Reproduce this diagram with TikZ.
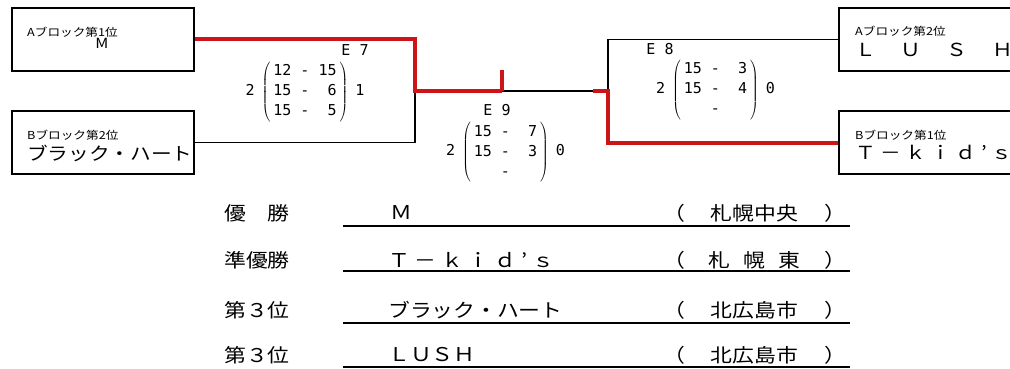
\documentclass[tikz,border=0pt]{standalone}
\usepackage{fontspec}
\setmainfont{Liberation Sans}
\newfontfamily\jp[FakeStretch=1.15]{Noto Sans CJK JP}
\newfontfamily\jpwide[FakeStretch=1.15,LetterSpace=25]{Noto Sans CJK JP}
\newfontfamily\scorefont{DejaVu Sans Mono}
\usepackage{tikz}
\usetikzlibrary{positioning,calc}
\definecolor{winred}{RGB}{205,20,25}

\begin{document}
\begin{tikzpicture}[x=1pt,y=-1pt]
				\tikzstyle{every node}=[inner sep=0pt]
				\tikzstyle{tbox}=[draw, line width=1.3pt, minimum width=182pt, minimum height=63pt]
				\tikzstyle{head}=[anchor=west, font=\jp\fontsize{11}{13}\selectfont]
				\tikzstyle{team}=[anchor=west, font=\jp\fontsize{18}{20}\selectfont]
				\tikzstyle{game}=[font=\scorefont\fontsize{15}{18}\selectfont]
				\tikzstyle{score}=[font=\scorefont\fontsize{15}{20}\selectfont]
				\tikzstyle{rank}=[font=\jp\fontsize{19}{22}\selectfont]
				\tikzstyle{lost}=[line width=1.2pt]
				\tikzstyle{won}=[line width=4pt, winred]
				\clip (0,0) rectangle (1010,369);
				% teams
				\node[tbox] (a1) at (103,39.5) {};
				\node[tbox] (b2) at (103,142.5) {};
				\node[tbox] (a2) at (930,39.5) {};
				\node[tbox] (b1) at (930,142.5) {};
				\node[head] (a1h) at (27,32) {Aブロック第1位};
				\node[font=\jp\fontsize{14}{16}\selectfont] (a1t) at (102,43) {M};
				\node[head] (b2h) at (27,135) {Bブロック第2位};
				\node[team] (b2t) at (27,153) {ブラック・ハート};
				\node[head] (a2h) at (855,31) {Aブロック第2位};
				\node[team] (a2t) at (855,50) {Ｌ\hspace{25pt}Ｕ\hspace{25pt}Ｓ\hspace{25pt}Ｈ};
				\node[head] (b1h) at (855,135) {Bブロック第1位};
				\node[team, font=\jpwide\fontsize{18}{20}\selectfont] (b1t) at (855,152) {Ｔ－ｋｉｄ’ｓ};
				% bracket
				\coordinate (j7) at (415,91);
				\coordinate (j9) at (502,91);
				\coordinate (t9) at (502,70);
				\coordinate (j8) at (608,91);
				\coordinate (s8) at (593,91);
				\draw[lost] (b2.east) -| (j7);
				\draw[lost] (j9) -- (j8);
				\draw[lost] (a2.west) -| (j8);
				\draw[won] (a1.east) -| (j7) -- (j9);
				\draw[won] (t9) -- (j9);
				\draw[won] (b1.west) -| (j8) -- (s8);
				% games
				\node[game] (e7) at (355,50) {E 7};
				\node[game] (e9) at (497,110) {E 9};
				\node[game] (e8) at (660,49) {E 8};
				\node[score] (r7) at (305,92) {2\hspace{7pt}$\left(\vcenter{\hbox{\begin{tabular}{@{\hspace{3pt}}c@{\hspace{3pt}}}12 - 15\\15 -\ \ 6\\15 -\ \ 5\end{tabular}}}\right)$\hspace{7pt}1};
				\node[score] (r9) at (505.5,152) {2\hspace{7pt}$\left(\vcenter{\hbox{\begin{tabular}{@{\hspace{3pt}}c@{\hspace{3pt}}}15 -\ \ 7\\15 -\ \ 3\\-\end{tabular}}}\right)$\hspace{7pt}0};
				\node[score] (r8) at (715.5,90) {2\hspace{7pt}$\left(\vcenter{\hbox{\begin{tabular}{@{\hspace{3pt}}c@{\hspace{3pt}}}15 -\ \ 3\\15 -\ \ 4\\-\end{tabular}}}\right)$\hspace{7pt}0};
				% results
				\node[rank] (p1) at (257,213) {優　勝};
				\node[rank] (p2) at (257,260) {準優勝};
				\node[rank] (p3) at (257,310) {第３位};
				\node[rank] (p4) at (257,355) {第３位};
				\node[rank, anchor=west] (n1) at (390,213) {Ｍ};
				\node[rank, anchor=west, font=\jpwide\fontsize{19}{22}\selectfont] (n2) at (388,260) {Ｔ－ｋｉｄ’ｓ};
				\node[rank, anchor=west] (n3) at (388,310) {ブラック・ハート};
				\node[rank, anchor=west] (n4) at (388,355) {ＬＵＳＨ};
				\node[rank, anchor=west, text width=183pt] (c1) at (663,213) {（\hfill 札幌中央\hfill ）};
				\node[rank, anchor=west, text width=183pt] (c2) at (663,260) {（\hfill 札\hspace{13pt}幌\hspace{13pt}東\hfill ）};
				\node[rank, anchor=west, text width=183pt] (c3) at (663,310) {（\hfill 北広島市\hfill ）};
				\node[rank, anchor=west, text width=183pt] (c4) at (663,355) {（\hfill 北広島市\hfill ）};
				\foreach \y in {226,271,323,367}
					\draw[lost] (343,\y) -- (850,\y);
			\end{tikzpicture}
\end{document}
